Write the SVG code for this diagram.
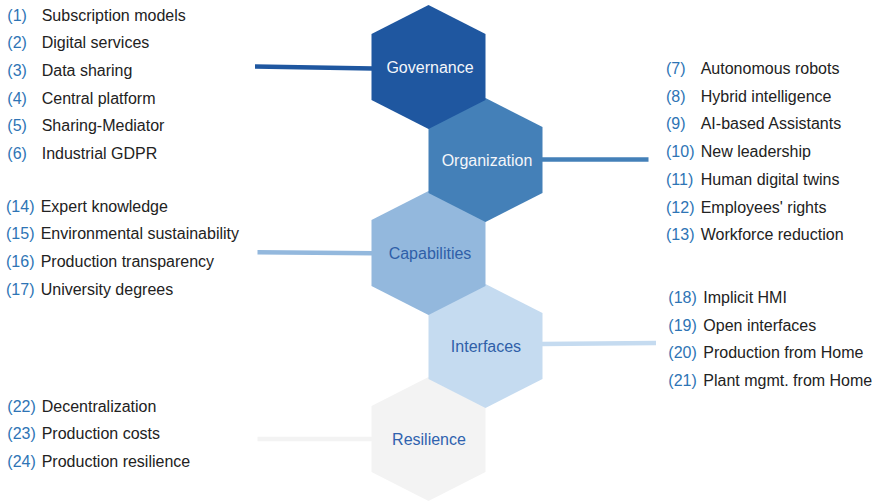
<svg xmlns="http://www.w3.org/2000/svg" width="875" height="503" viewBox="0 0 875 503">
<defs>
<style>
text{font-family:"Liberation Sans",Arial,sans-serif;font-size:16px}
.num{fill:#2E74B5}
.lbl{fill:#222222}
.hl{font-size:16px;text-anchor:middle}
.w{fill:#F4F6FA}
.b{fill:#2F5FA8}
.c{stroke-width:4.5;fill:none}
</style>
<polygon id="hex" points="0,-62 57,-33 57,33 0,62 -57,33 -57,-33"/>
</defs>
<rect width="875" height="503" fill="#ffffff"/>
<g id="connectors">
<line class="c" x1="255" y1="66.5" x2="373" y2="68.5" stroke="#1F57A0"/>
<line class="c" x1="541" y1="159.5" x2="648.5" y2="159.5" stroke="#4480B8"/>
<line class="c" x1="257.5" y1="252.3" x2="373" y2="253.3" stroke="#93B8DD"/>
<line class="c" x1="541" y1="344" x2="656" y2="343" stroke="#C5DBF0"/>
<line class="c" x1="257.5" y1="439" x2="373" y2="439" stroke="#F3F3F3"/>
</g>
<g id="node-resilience">
<use href="#hex" x="428.5" y="439" fill="#F3F3F3"/>
<text class="hl b" x="429" y="445" style="fill:#2F62AE">Resilience</text>
</g>
<g id="node-interfaces">
<use href="#hex" x="485.5" y="346" fill="#C5DBF0"/>
<text class="hl b" x="486" y="351.7">Interfaces</text>
</g>
<g id="node-capabilities">
<use href="#hex" x="428.5" y="253" fill="#93B8DD"/>
<text class="hl b" x="430" y="259">Capabilities</text>
</g>
<g id="node-organization">
<use href="#hex" x="485.5" y="160" fill="#4480B8"/>
<text class="hl w" x="487" y="166">Organization</text>
</g>
<g id="node-governance">
<use href="#hex" x="428.5" y="67" fill="#1F57A0"/>
<text class="hl w" x="430" y="72.7">Governance</text>
</g>
<g id="list-governance">
<text class="num" x="7.3" y="20.7">(1)</text><text class="lbl" x="41.7" y="20.7">Subscription models</text>
<text class="num" x="7.3" y="48.3">(2)</text><text class="lbl" x="41.7" y="48.3">Digital services</text>
<text class="num" x="7.3" y="76">(3)</text><text class="lbl" x="41.7" y="76">Data sharing</text>
<text class="num" x="7.3" y="103.6">(4)</text><text class="lbl" x="41.7" y="103.6">Central platform</text>
<text class="num" x="7.3" y="131.2">(5)</text><text class="lbl" x="41.7" y="131.2">Sharing-Mediator</text>
<text class="num" x="7.3" y="158.8">(6)</text><text class="lbl" x="41.7" y="158.8">Industrial GDPR</text>
</g>
<g id="list-organization">
<text class="num" x="666" y="74">(7)</text><text class="lbl" x="700.7" y="74">Autonomous robots</text>
<text class="num" x="666" y="101.7">(8)</text><text class="lbl" x="700.7" y="101.7">Hybrid intelligence</text>
<text class="num" x="666" y="129.3">(9)</text><text class="lbl" x="700.7" y="129.3">AI-based Assistants</text>
<text class="num" x="666" y="157.3">(10)</text><text class="lbl" x="700.7" y="157.3">New leadership</text>
<text class="num" x="666" y="185">(11)</text><text class="lbl" x="700.7" y="185">Human digital twins</text>
<text class="num" x="666" y="212.7">(12)</text><text class="lbl" x="700.7" y="212.7">Employees' rights</text>
<text class="num" x="666" y="240.3">(13)</text><text class="lbl" x="700.7" y="240.3">Workforce reduction</text>
</g>
<g id="list-capabilities">
<text class="num" x="6" y="211.7">(14)</text><text class="lbl" x="40.7" y="211.7">Expert knowledge</text>
<text class="num" x="6" y="239.3">(15)</text><text class="lbl" x="40.7" y="239.3">Environmental sustainability</text>
<text class="num" x="6" y="266.9">(16)</text><text class="lbl" x="40.7" y="266.9">Production transparency</text>
<text class="num" x="6" y="294.5">(17)</text><text class="lbl" x="40.7" y="294.5">University degrees</text>
</g>
<g id="list-interfaces">
<text class="num" x="668.3" y="302.7">(18)</text><text class="lbl" x="703.3" y="302.7">Implicit HMI</text>
<text class="num" x="668.3" y="330.5">(19)</text><text class="lbl" x="703.3" y="330.5">Open interfaces</text>
<text class="num" x="668.3" y="358.3">(20)</text><text class="lbl" x="703.3" y="358.3">Production from Home</text>
<text class="num" x="668.3" y="386">(21)</text><text class="lbl" x="703.3" y="386">Plant mgmt. from Home</text>
</g>
<g id="list-resilience">
<text class="num" x="7.3" y="411.7">(22)</text><text class="lbl" x="41.7" y="411.7">Decentralization</text>
<text class="num" x="7.3" y="439.4">(23)</text><text class="lbl" x="41.7" y="439.4">Production costs</text>
<text class="num" x="7.3" y="467.2">(24)</text><text class="lbl" x="41.7" y="467.2">Production resilience</text>
</g>
</svg>
